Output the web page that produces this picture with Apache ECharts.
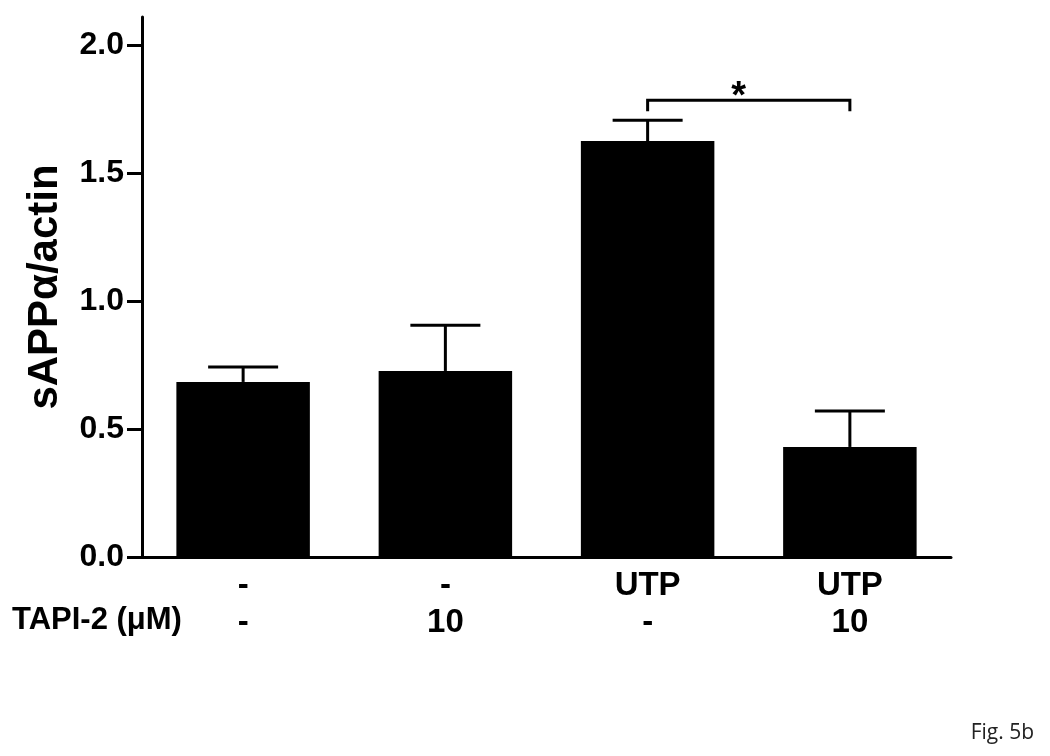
<!DOCTYPE html>
<html>
<head>
<meta charset="utf-8">
<script src="https://cdn.jsdelivr.net/npm/echarts@6/dist/echarts.min.js"></script>
<style>
  html, body { margin: 0; padding: 0; background: #fff; }
  #main { width: 1050px; height: 756px; }
</style>
</head>
<body>
<div id="main"></div>
<script>
// data
var categories = ['-', '-', 'UTP', 'UTP'];
var tapiLabels = ['-', '10', '-', '10'];
var meanValues = [0.684, 0.727, 1.625, 0.43];
var semValues = [0.058, 0.179, 0.082, 0.14];
var yTicks = [0, 0.5, 1.0, 1.5, 2.0];
// significance bracket: [from category, to category, bracket level, end level]
var sigBracket = [[2, 3, 1.785, 1.742]];
var sigMark = '*';

var FONT = '"Liberation Sans", Arial, sans-serif';

var chart = echarts.init(document.getElementById('main'));

var errorData = meanValues.map(function (m, i) {
    return [i, m, m + semValues[i]];
});

option = {
    animation: false,
    backgroundColor: '#fff',
    grid: {
        left: 142,
        right: 99,
        top: 17,
        bottom: 199,
        containLabel: false
    },
    xAxis: {
        type: 'category',
        data: categories,
        axisLine: { lineStyle: { color: '#000', width: 3 } },
        axisTick: { show: false },
        axisLabel: {
            margin: 10,
            color: '#000',
            fontFamily: FONT,
            fontWeight: 'bold',
            fontSize: 33,
            lineHeight: 37,
            formatter: function (value, index) {
                return value + '\n' + tapiLabels[index];
            }
        }
    },
    yAxis: {
        type: 'value',
        min: 0,
        max: 2.11,
        interval: 0.5,
        name: 'sAPPα/actin',
        nameLocation: 'middle',
        nameRotate: 90,
        nameGap: 76,
        nameTextStyle: {
            color: '#000',
            fontFamily: FONT,
            fontWeight: 'bold',
            fontSize: 42
        },
        axisLine: { show: true, lineStyle: { color: '#000', width: 3 } },
        axisTick: {
            show: true,
            length: 15,
            customValues: yTicks,
            lineStyle: { color: '#000', width: 3 }
        },
        axisLabel: {
            margin: 18,
            customValues: yTicks,
            color: '#000',
            fontFamily: FONT,
            fontWeight: 'bold',
            fontSize: 32,
            formatter: function (v) { return v.toFixed(1); }
        },
        splitLine: { show: false }
    },
    graphic: [
        {
            type: 'text',
            left: 12,
            top: 605,
            style: {
                text: 'TAPI-2 (μM)',
                fill: '#000',
                font: 'bold 31px ' + FONT
            }
        },
        {
            type: 'text',
            right: 16,
            top: 723,
            style: {
                text: 'Fig. 5b',
                fill: '#222',
                font: '21px "Open Sans", "Liberation Sans", sans-serif'
            }
        }
    ],
    series: [
        {
            type: 'bar',
            data: meanValues,
            barWidth: '66%',
            itemStyle: { color: '#000' },
            z: 2
        },
        {
            type: 'custom',
            data: errorData,
            z: 3,
            renderItem: function (params, api) {
                var idx = api.value(0);
                var base = api.coord([idx, api.value(1)]);
                var top = api.coord([idx, api.value(2)]);
                var half = 35;
                var style = { stroke: '#000', lineWidth: 3 };
                return {
                    type: 'group',
                    children: [
                        { type: 'line', shape: { x1: base[0], y1: base[1], x2: top[0], y2: top[1] }, style: style },
                        { type: 'line', shape: { x1: top[0] - half, y1: top[1], x2: top[0] + half, y2: top[1] }, style: style }
                    ]
                };
            }
        },
        {
            type: 'custom',
            data: sigBracket,
            z: 3,
            renderItem: function (params, api) {
                var a = api.value(0), b = api.value(1);
                var lvl = api.value(2), end = api.value(3);
                var p1 = api.coord([a, end]);
                var p2 = api.coord([a, lvl]);
                var p3 = api.coord([b, lvl]);
                var p4 = api.coord([b, end]);
                return {
                    type: 'group',
                    children: [
                        {
                            type: 'polyline',
                            shape: { points: [p1, p2, p3, p4] },
                            style: { stroke: '#000', lineWidth: 3, fill: null }
                        },
                        {
                            type: 'text',
                            style: {
                                x: (p2[0] + p3[0]) / 2 - 10,
                                y: p2[1] + 16,
                                text: sigMark,
                                fill: '#000',
                                font: 'bold 38px ' + FONT,
                                align: 'center',
                                verticalAlign: 'bottom'
                            }
                        }
                    ]
                };
            }
        }
    ]
};

chart.setOption(option);
</script>
</body>
</html>
